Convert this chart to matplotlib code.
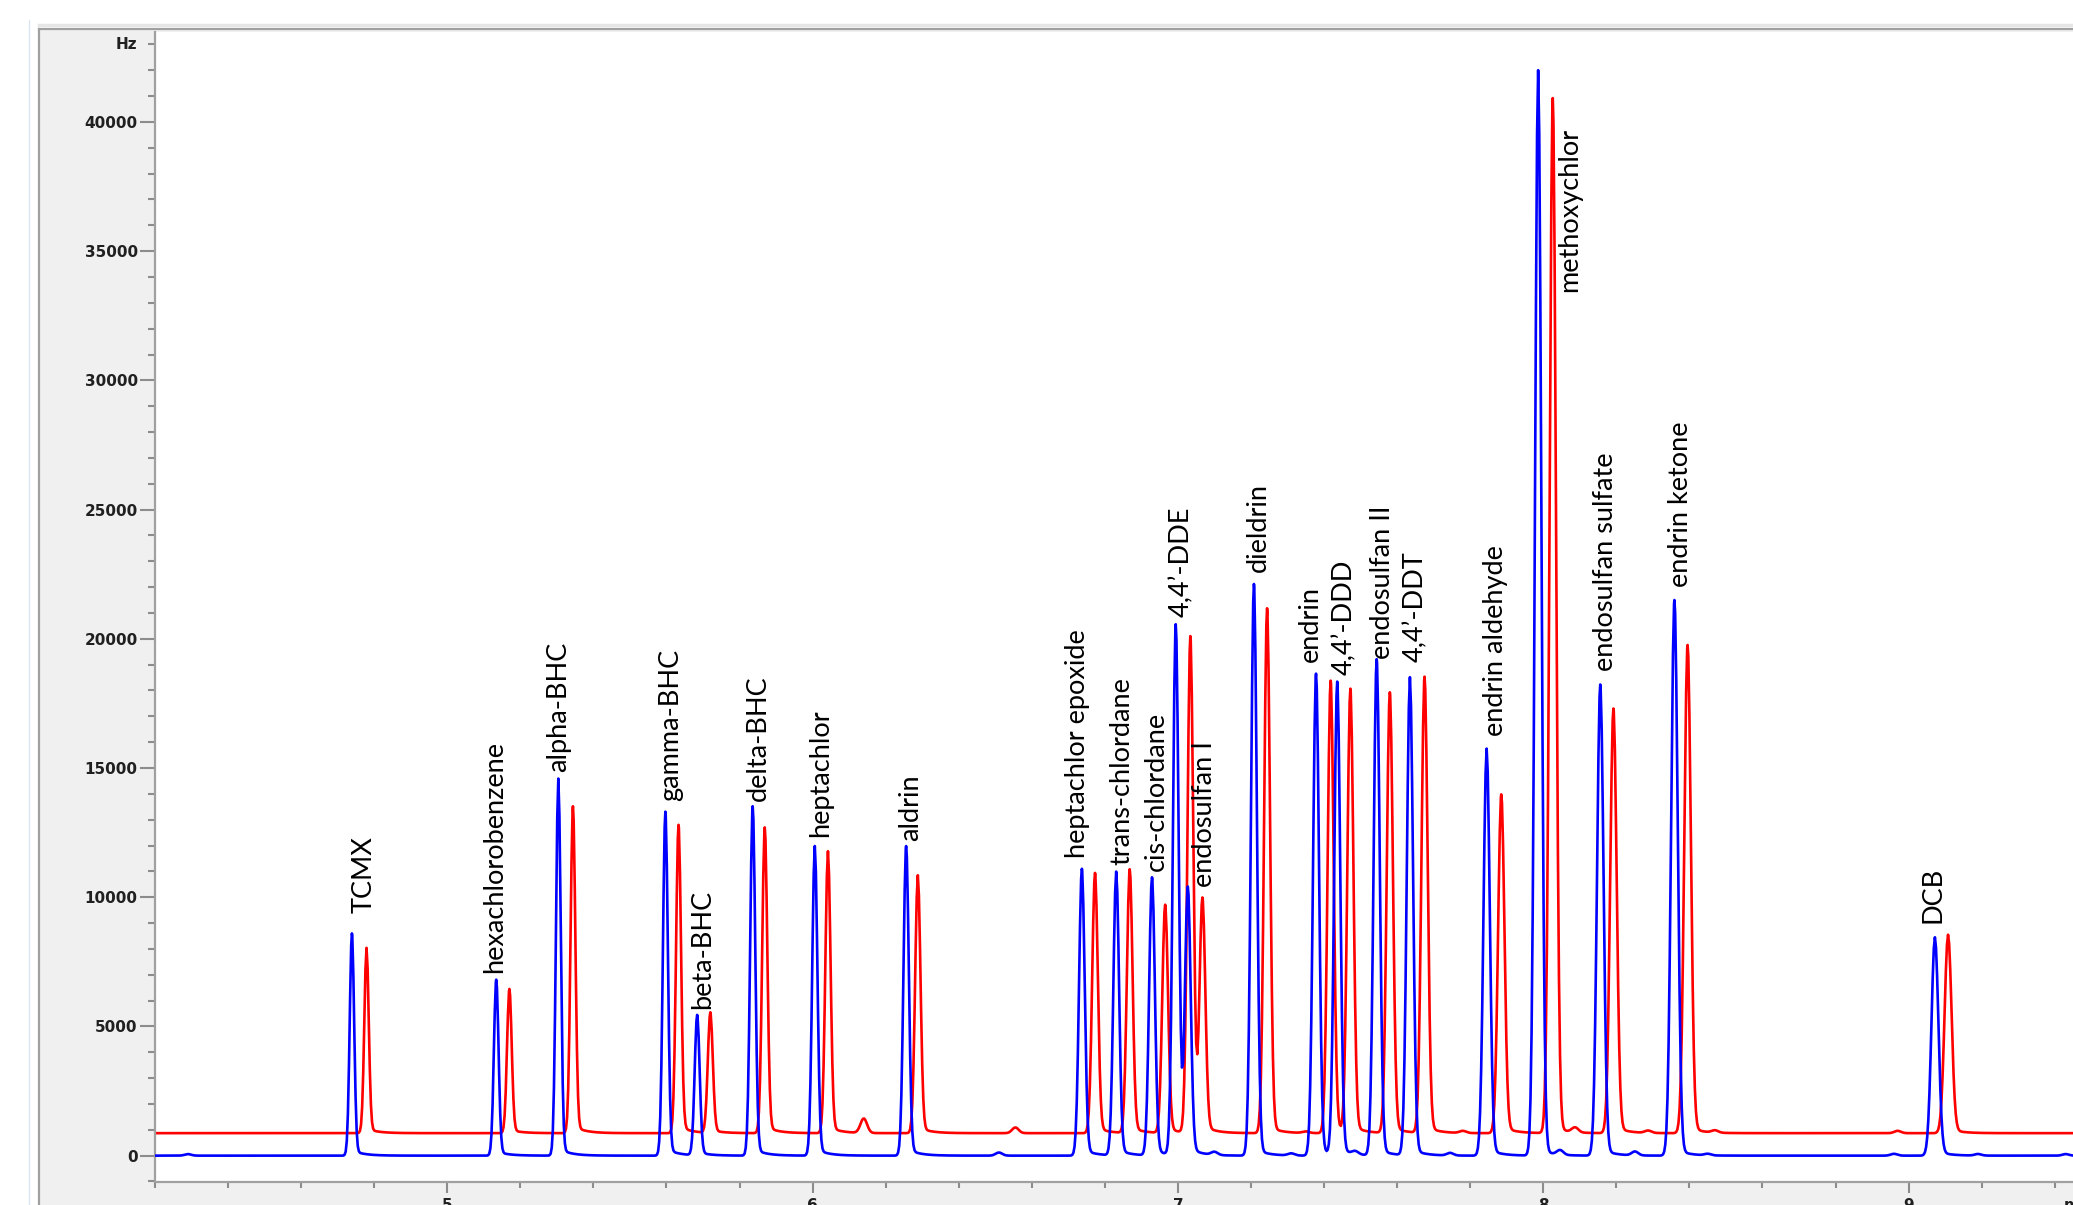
import math
import numpy as np
import matplotlib.pyplot as plt
from matplotlib.lines import Line2D
from matplotlib.patches import Rectangle
from matplotlib.ticker import MultipleLocator

# compounds, retention times (min) and apex heights (Hz) for both detector channels
compounds = ["TCMX", "hexachlorobenzene", "alpha-BHC", "gamma-BHC", "beta-BHC",
             "delta-BHC", "heptachlor", "aldrin", "heptachlor epoxide",
             "trans-chlordane", "cis-chlordane", "4,4\u2019-DDE", "endosulfan I",
             "dieldrin", "endrin", "4,4\u2019-DDD", "endosulfan II", "4,4\u2019-DDT",
             "endrin aldehyde", "methoxychlor", "endosulfan sulfate",
             "endrin ketone", "DCB"]

blue_rt = [4.739, 5.134, 5.304, 5.597, 5.684, 5.836, 6.006, 6.256, 6.737, 6.831,
           6.929, 6.994, 7.027, 7.208, 7.378, 7.436, 7.544, 7.635, 7.845, 7.986,
           8.156, 8.359, 9.072]
blue_hz = [8600, 6810, 14590, 13310, 5430, 13520, 11980, 11980, 11100, 10980,
           10760, 20530, 10300, 22120, 18650, 18300, 19200, 18500, 15750, 42000,
           18230, 21500, 8450]

red_rt = [4.779, 5.170, 5.344, 5.633, 5.720, 5.869, 6.042, 6.288, 6.773, 6.868,
          6.965, 7.034, 7.067, 7.244, 7.418, 7.472, 7.580, 7.675, 7.885, 8.026,
          8.192, 8.395, 9.108]
red_hz = [8040, 6450, 13520, 12800, 5530, 12700, 11780, 10850, 10940, 11070,
          9700, 20080, 9880, 21180, 18380, 18020, 17920, 18520, 13980, 40920,
          17300, 19760, 8550]
red_baseline = 870

# small unlabelled bumps
blue_minor_rt = [4.29, 6.51, 7.10, 7.31, 7.485, 7.745, 8.046, 8.251, 8.45, 8.96, 9.19, 9.43]
blue_minor_hz = [60, 120, 120, 80, 120, 100, 180, 150, 60, 70, 60, 60]
red_minor_rt = [6.14, 6.555, 7.35, 7.78, 8.087, 8.287, 8.47, 8.97]
red_minor_hz = [1430, 1090, 930, 950, 1060, 960, 960, 960]

# where each peak name sits (bottom of the rotated text)
label_rt = [4.772, 5.130, 5.304, 5.612, 5.699, 5.851, 6.021, 6.267, 6.726, 6.846,
            6.940, 7.009, 7.074, 7.219, 7.363, 7.457, 7.559, 7.649, 7.870, 8.073,
            8.170, 8.377, 9.068]
label_hz = [9370, 7065, 14850, 13720, 5680, 13720, 12340, 12190, 11520, 11260,
            11010, 20840, 10390, 22580, 19100, 18590, 19200, 19100, 16230, 33430,
            18740, 22020, 9010]

yticks = [0, 5000, 10000, 15000, 20000, 25000, 30000, 35000, 40000]
xticks = [5, 6, 7, 8, 9]

erf = np.vectorize(math.erf)


def peak(t, t0, h, sigma, tail=True):
    g = np.exp(-0.5 * ((t - t0) / sigma) ** 2)
    if not tail:
        return h * g
    frac = min(0.025, 300.0 / h)
    step = 0.5 * (1 + erf((t - t0) / (sigma * 1.4)))
    tl = step * np.exp(-np.clip(t - t0, 0, None) / 0.03)
    return h * (g + frac * tl) / (1 + 0.5 * frac)


def trace(rts, hts, minor_rt, minor_hz, base):
    t = np.union1d(np.arange(4.2, 9.46, 0.003), rts)
    y = np.full_like(t, float(base))
    for t0, h in zip(rts, hts):
        sigma = 0.006 + 0.0008 * (t0 - 4.7)
        y += peak(t, t0, h - base, sigma)
    for t0, h in zip(minor_rt, minor_hz):
        y += peak(t, t0, h - base, 0.009, tail=False)
    return t, y


W, H = 2073, 1205
fig = plt.figure(figsize=(W / 100, H / 100), dpi=100, facecolor="white")

# window frame around the chart
fig.add_artist(Rectangle((39 / W, 0), 1, (H - 29) / H, transform=fig.transFigure,
                         facecolor="#f0f0f0", edgecolor="none", zorder=0))
fig.add_artist(Line2D([39 / W, 1], [(H - 29) / H] * 2, transform=fig.transFigure,
                      color="#a0a0a0", lw=1.6))
fig.add_artist(Line2D([39 / W, 1], [(H - 25) / H] * 2, transform=fig.transFigure,
                      color="#e6e6e6", lw=2.5))
fig.add_artist(Line2D([39 / W] * 2, [0, (H - 29) / H], transform=fig.transFigure,
                      color="#a0a0a0", lw=1.6))
fig.add_artist(Line2D([29 / W] * 2, [0, (H - 20) / H], transform=fig.transFigure,
                      color="#dce6f2", lw=1.0))

ax = fig.add_axes([155 / W, (H - 1182) / H, 1 - 155 / W, (1182 - 32) / H])
ax.set_facecolor("white")

bt, by = trace(blue_rt, blue_hz, blue_minor_rt, blue_minor_hz, 0)
rt, ry = trace(red_rt, red_hz, red_minor_rt, red_minor_hz, red_baseline)
ax.plot(rt, ry, color="#ff0000", lw=1.9, zorder=2)
ax.plot(bt, by, color="#0000ff", lw=1.9, zorder=3)

for name, x, y in zip(compounds, label_rt, label_hz):
    ax.text(x, y, name, rotation=90, ha="center", va="bottom",
            family=["Lato", "DejaVu Sans"], fontsize=19.5, color="black", zorder=4)

ax.set_xlim(4.2, 9.45)
ax.set_ylim(-1020, 43480)

for side in ["top", "right"]:
    ax.spines[side].set_visible(False)
for side in ["left", "bottom"]:
    ax.spines[side].set_color("#a0a0a0")
    ax.spines[side].set_linewidth(1.6)

ax.set_yticks(yticks)
ax.set_yticklabels([str(v) for v in yticks])
ax.yaxis.set_minor_locator(MultipleLocator(1000))
ax.set_xticks(xticks)
ax.set_xticklabels([str(v) for v in xticks])
ax.xaxis.set_minor_locator(MultipleLocator(0.2))

ax.tick_params(axis="y", which="major", length=10.5, width=1.5, color="#8c8c8c", pad=2)
ax.tick_params(axis="y", which="minor", length=5, width=1.5, color="#8c8c8c")
ax.tick_params(axis="x", which="major", length=8, width=1.5, color="#8c8c8c", pad=3.5)
ax.tick_params(axis="x", which="minor", length=4.3, width=1.5, color="#8c8c8c")
for lbl in ax.get_xticklabels() + ax.get_yticklabels():
    lbl.set_fontfamily("DejaVu Sans")
    lbl.set_fontweight("bold")
    lbl.set_fontsize(11)
    lbl.set_color("#202020")

# unit labels at the ends of the axes
ax.annotate("Hz", xy=(0, 43000), xycoords=ax.get_yaxis_transform(),
            xytext=(-12.5, 0), textcoords="offset points", ha="right", va="center",
            family="DejaVu Sans", fontweight="bold", fontsize=11, color="#202020")
ax.text(9.425, -0.014, "min", transform=ax.get_xaxis_transform(), ha="left",
        va="top", family="DejaVu Sans", fontweight="bold", fontsize=11, color="#202020",
        clip_on=False)

fig.savefig("out.png", dpi=100)
